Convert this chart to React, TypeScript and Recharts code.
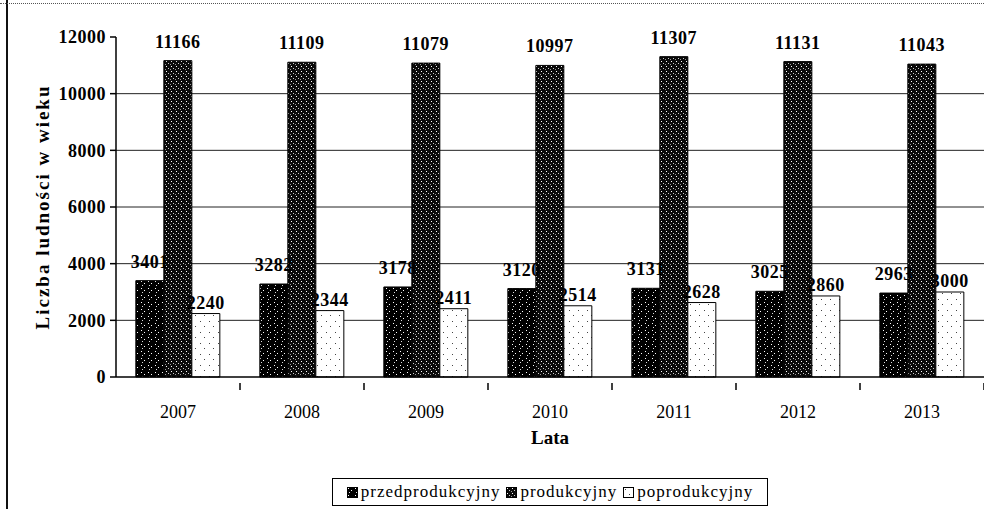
import { BarChart, Bar, XAxis, YAxis, CartesianGrid, LabelList } from 'recharts';

const YEARS = ['2007', '2008', '2009', '2010', '2011', '2012', '2013'];
const PRZED = [3401, 3282, 3178, 3120, 3131, 3025, 2963];
const PROD = [11166, 11109, 11079, 10997, 11307, 11131, 11043];
const POPROD = [2240, 2344, 2411, 2514, 2628, 2860, 3000];
const Y_TICKS = [0, 2000, 4000, 6000, 8000, 10000, 12000];
const GRID_VALUES = [2000, 4000, 6000, 8000, 10000];

const SERIES = [
  { key: 'przed', name: 'przedprodukcyjny', fill: 'url(#pPrzed)', labelOffset: 13 },
  { key: 'prod', name: 'produkcyjny', fill: 'url(#pProd)', labelOffset: 13 },
  { key: 'poprod', name: 'poprodukcyjny', fill: 'url(#pPoprod)', labelOffset: 5 },
];

const FONT = '"Liberation Serif", "Times New Roman", serif';

const chartData = YEARS.map((year, i) => ({
  year,
  przed: PRZED[i],
  prod: PROD[i],
  poprod: POPROD[i],
}));

function Patterns() {
  return (
    <svg width={0} height={0} style={{ position: 'absolute', left: 0, top: 0 }}>
      <defs>
        <pattern id="pPrzed" width={7} height={7} patternUnits="userSpaceOnUse">
          <rect width={7} height={7} fill="#000" />
          <rect x={1} y={1} width={1} height={1} fill="#fff" />
          <rect x={4} y={3} width={1} height={1} fill="#fff" />
          <rect x={2} y={5} width={1} height={1} fill="#ddd" />
        </pattern>
        <pattern id="pProd" width={5} height={5} patternUnits="userSpaceOnUse">
          <rect width={5} height={5} fill="#0a0a0a" />
          <rect x={1} y={1} width={1} height={1} fill="#fff" />
          <rect x={3} y={3} width={1} height={1} fill="#ccc" />
          <rect x={0} y={4} width={1} height={1} fill="#999" />
        </pattern>
        <pattern id="pPoprod" width={9} height={11} patternUnits="userSpaceOnUse">
          <rect width={9} height={11} fill="#fff" />
          <rect x={2} y={2} width={1} height={1} fill="#444" />
          <rect x={6} y={7} width={1} height={1} fill="#444" />
        </pattern>
      </defs>
    </svg>
  );
}

// year label plus a short tick at the right edge of its band
function YearTick(props: any) {
  const { x, y, payload } = props;
  const half = payload && payload.offset ? payload.offset : 62;
  return (
    <g>
      <line x1={x + half} y1={y - 2} x2={x + half} y2={y + 5} stroke="#000" strokeWidth={1.5} />
      <text x={x} y={y + 33} textAnchor="middle" fill="#000" fontSize={18} fontFamily={FONT}>
        {payload.value}
      </text>
    </g>
  );
}

export default function App() {
  return (
    <div
      style={{
        position: 'absolute',
        left: 0,
        top: 0,
        width: 986,
        height: 509,
        overflow: 'hidden',
        background: '#fff',
        fontFamily: FONT,
      }}
    >
      <Patterns />
      <div style={{ position: 'absolute', left: 6, top: 0, width: 2, height: 509, background: '#111' }} />
      <div style={{ position: 'absolute', left: 0, top: 3, width: 986, borderTop: '1px dotted #555' }} />

      <BarChart
        width={986}
        height={509}
        data={chartData}
        margin={{ top: 37, right: 2, left: 36, bottom: 62 }}
        barCategoryGap="16%"
        barGap={0}
      >
        <CartesianGrid vertical={false} horizontalValues={GRID_VALUES} stroke="#222" strokeWidth={1} />
        <XAxis
          dataKey="year"
          tickLine={false}
          axisLine={{ stroke: '#000', strokeWidth: 1.5 }}
          height={70}
          tick={<YearTick />}
          label={{
            value: 'Lata',
            position: 'insideBottom',
            offset: 3,
            style: { fill: '#000', fontSize: 19, fontWeight: 'bold', fontFamily: FONT },
          }}
        />
        <YAxis
          domain={[0, 12000]}
          ticks={Y_TICKS}
          width={80}
          tickSize={6}
          tickMargin={4}
          stroke="#000"
          strokeWidth={1.5}
          tick={{ fill: '#000', fontSize: 18, fontWeight: 'bold', fontFamily: FONT, letterSpacing: 0.5 }}
          label={{
            value: 'Liczba ludności w wieku',
            angle: -90,
            position: 'insideLeft',
            offset: 6,
            style: {
              textAnchor: 'middle',
              fill: '#000',
              fontSize: 19,
              fontWeight: 'bold',
              fontFamily: FONT,
              letterSpacing: 2,
            },
          }}
        />
        {SERIES.map((s) => (
          <Bar
            key={s.key}
            dataKey={s.key}
            name={s.name}
            fill={s.fill}
            stroke="#000"
            strokeWidth={1}
            isAnimationActive={false}
          >
            <LabelList
              dataKey={s.key}
              position="top"
              offset={s.labelOffset}
              style={{ fill: '#000', fontSize: 18, fontWeight: 'bold', fontFamily: FONT, letterSpacing: 0.5 }}
            />
          </Bar>
        ))}
      </BarChart>

      {/* blank strip at the right edge of the scan */}
      <div style={{ position: 'absolute', left: 984, top: 0, width: 2, height: 509, background: '#fff' }} />

      <div
        style={{
          position: 'absolute',
          left: 332,
          top: 478,
          width: 434,
          height: 26,
          border: '1px solid #000',
          display: 'flex',
          alignItems: 'center',
          justifyContent: 'center',
          gap: 6,
          fontSize: 17,
          letterSpacing: 1,
          color: '#000',
          whiteSpace: 'nowrap',
        }}
      >
        {SERIES.map((s) => (
          <span key={s.key} style={{ display: 'flex', alignItems: 'center', gap: 3 }}>
            <svg width={11} height={11}>
              <rect x={0.5} y={0.5} width={10} height={10} fill={s.fill} stroke="#000" />
            </svg>
            {s.name}
          </span>
        ))}
      </div>
    </div>
  );
}
